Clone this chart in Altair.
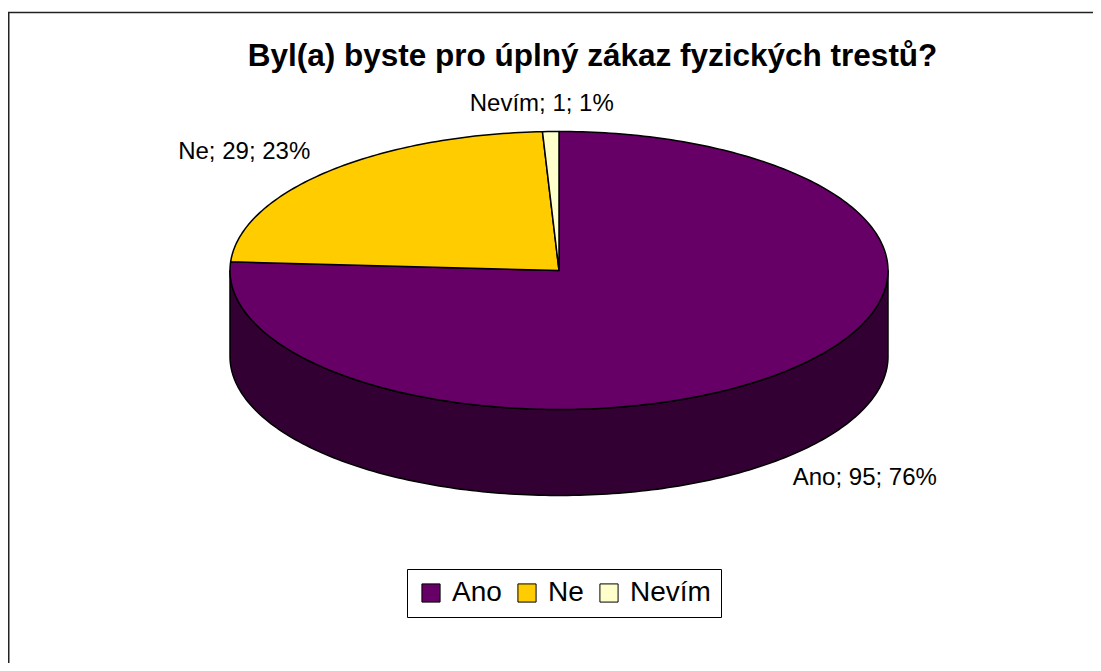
import altair as alt
import numpy as np
import pandas as pd

# ---- data -------------------------------------------------------------
categories = ["Ano", "Ne", "Nevím"]
values = [95, 29, 1]
top_colors = ["#660066", "#FFCC00", "#FFFFCC"]
side_colors = ["#330033", "#806600", "#808066"]
title_text = "Byl(a) byste pro úplný zákaz fyzických trestů?"

# ---- layout (pixel space of the plot area; page = plot + 8) -------------
W, H = 1085, 655
CX, CY = 551.0, 262.5
RX, RY = 329.0, 139.0
DEPTH = 86.0
FONT = "Liberation Sans"

total = sum(values)
fracs = [v / total for v in values]
starts = np.cumsum([0.0] + fracs[:-1]) * 360.0
ends = starts + np.array(fracs) * 360.0


def arc(a0, a1, dy=0.0):
    n = max(2, int(abs(a1 - a0)) + 2)
    t = np.radians(np.linspace(a0, a1, n))
    return CX + RX * np.sin(t), CY - RY * np.cos(t) + dy


# top faces
rows = []
for c, a0, a1 in zip(categories, starts, ends):
    xs, ys = arc(a0, a1)
    pts = [(CX, CY)] + list(zip(xs, ys))
    for i, (x, y) in enumerate(pts):
        rows.append({"cat": c, "i": i, "x": x, "y": y})
top_df = pd.DataFrame(rows)

# front side faces (visible between 90 and 270 degrees)
rows = []
for c, a0, a1 in zip(categories, starts, ends):
    s0, s1 = max(a0, 90.0), min(a1, 270.0)
    if s1 <= s0:
        continue
    xt, yt = arc(s0, s1)
    xb, yb = arc(s1, s0, DEPTH)
    pts = list(zip(xt, yt)) + list(zip(xb, yb))
    for i, (x, y) in enumerate(pts):
        rows.append({"cat": c, "i": i, "x": x, "y": y})
side_df = pd.DataFrame(rows)

# data labels
lab = []
for c, v, a0, a1 in zip(categories, values, starts, ends):
    m = np.radians((a0 + a1) / 2)
    x = CX + 1.36 * RX * np.sin(m) - 6 * abs(np.cos(m)) ** 8
    y = CY - 1.2 * RY * np.cos(m) + (DEPTH if np.cos(m) < 0 else 0.0)
    lab.append({"cat": c, "x": x, "y": y,
                "text": f"{c}; {v}; {round(100 * v / total)}%"})
lab_df = pd.DataFrame(lab)

X = alt.X("x:Q", scale=alt.Scale(domain=[0, W], nice=False, zero=False), axis=None)
Y = alt.Y("y:Q", scale=alt.Scale(domain=[0, H], nice=False, zero=False, reverse=True), axis=None)

side = alt.Chart(side_df).mark_line(
    interpolate="linear-closed", stroke="black", strokeWidth=1.5, strokeJoin="round"
).encode(
    x=X, y=Y, order=alt.Order("i:Q"), detail="cat:N",
    fill=alt.Fill("cat:N", scale=alt.Scale(domain=categories, range=side_colors), legend=None),
)

top = alt.Chart(top_df).mark_line(
    interpolate="linear-closed", stroke="black", strokeWidth=1.5, strokeJoin="round"
).encode(
    x=X, y=Y, order=alt.Order("i:Q"), detail="cat:N",
    fill=alt.Fill(
        "cat:N",
        scale=alt.Scale(domain=categories, range=top_colors),
        sort=categories,
        legend=alt.Legend(
            title=None, orient="none", legendX=399, legendY=561,
            direction="horizontal", symbolType="square", symbolSize=330,
            symbolStrokeColor="black", symbolStrokeWidth=1, symbolOpacity=1,
            labelFont=FONT, labelFontSize=28, labelColor="black",
            labelOffset=7, columnPadding=11, padding=10,
            strokeColor="black",
        ),
    ),
)

labels = alt.Chart(lab_df).mark_text(
    font=FONT, fontSize=24, color="black", align="center", baseline="middle"
).encode(x=X, y=Y, text="text:N")

title = alt.Chart(pd.DataFrame({"t": [title_text]})).mark_text(
    font=FONT, fontSize=31.5, fontWeight="bold", color="black",
    align="center", baseline="alphabetic"
).encode(x=alt.value(584.5), y=alt.value(58), text="t:N")

border_top = alt.Chart(pd.DataFrame({"a": [0]})).mark_rule(
    color="#222222", strokeWidth=1.5
).encode(x=alt.value(0), x2=alt.value(W), y=alt.value(4.5))
border_left = alt.Chart(pd.DataFrame({"a": [0]})).mark_rule(
    color="#222222", strokeWidth=1.5
).encode(x=alt.value(0.75), y=alt.value(4), y2=alt.value(H))

chart = alt.layer(side, top, labels, title, border_top, border_left).resolve_scale(
    fill="independent"
).properties(
    width=W, height=H, padding=0, autosize="none", background="white"
).configure_view(stroke=None)

chart.save("out.html", embed_options={"renderer": "svg", "actions": False})
